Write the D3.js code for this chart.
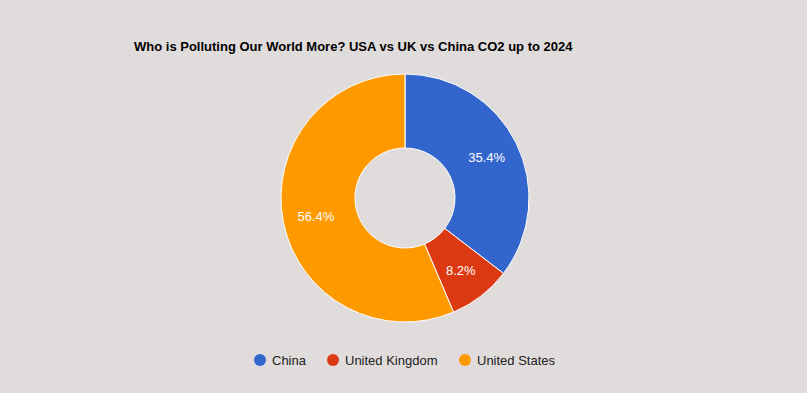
<!DOCTYPE html>
<html>
<head>
<meta charset="utf-8">
<script src="https://cdn.jsdelivr.net/npm/d3@7"></script>
<style>
html,body{margin:0;padding:0;background:#e0dcdb;}
svg{display:block;font-family:Arial,"Liberation Sans",sans-serif;}
</style>
</head>
<body>
<svg id="chart" width="807" height="393"></svg>
<script>
const categories = ["China", "United Kingdom", "United States"];
const values = [35.4, 8.2, 56.4];
const colors = ["#3366cc", "#dc3912", "#ff9900"];
const title = "Who is Polluting Our World More? USA vs UK vs China CO2 up to 2024";

const svg = d3.select("#chart");
const W = 807, H = 393;
svg.append("rect").attr("width", W).attr("height", H).attr("fill", "#e0dcdb");

svg.append("text").attr("x", 134).attr("y", 51)
  .attr("font-size", 13).attr("font-weight", "bold").attr("fill", "#000")
  .text(title);

const cx = 405, cy = 198, R = 124, r = 50;
const pie = d3.pie().sort(null).value(d => d)(values);
const arc = d3.arc().innerRadius(r).outerRadius(R);
const total = d3.sum(values);
const g = svg.append("g").attr("transform", `translate(${cx},${cy})`);
g.selectAll("path").data(pie).join("path")
  .attr("d", arc).attr("fill", (d, i) => colors[i])
  .attr("stroke", "#ffffff").attr("stroke-width", 1);
const labelArc = d3.arc().innerRadius(91).outerRadius(91);
g.selectAll("text").data(pie).join("text")
  .attr("transform", d => `translate(${labelArc.centroid(d)})`)
  .attr("text-anchor", "middle").attr("dy", "0.36em")
  .attr("font-size", 13).attr("fill", "#ffffff")
  .text(d => (d.value / total * 100).toFixed(1) + "%");

const legendX = [260, 333, 465];
const lg = svg.append("g");
categories.forEach((c, i) => {
  lg.append("circle").attr("cx", legendX[i]).attr("cy", 360).attr("r", 6).attr("fill", colors[i]);
  lg.append("text").attr("x", legendX[i] + 12).attr("y", 364.5)
    .attr("font-size", 13).attr("fill", "#222").text(c);
});
</script>
</body>
</html>
